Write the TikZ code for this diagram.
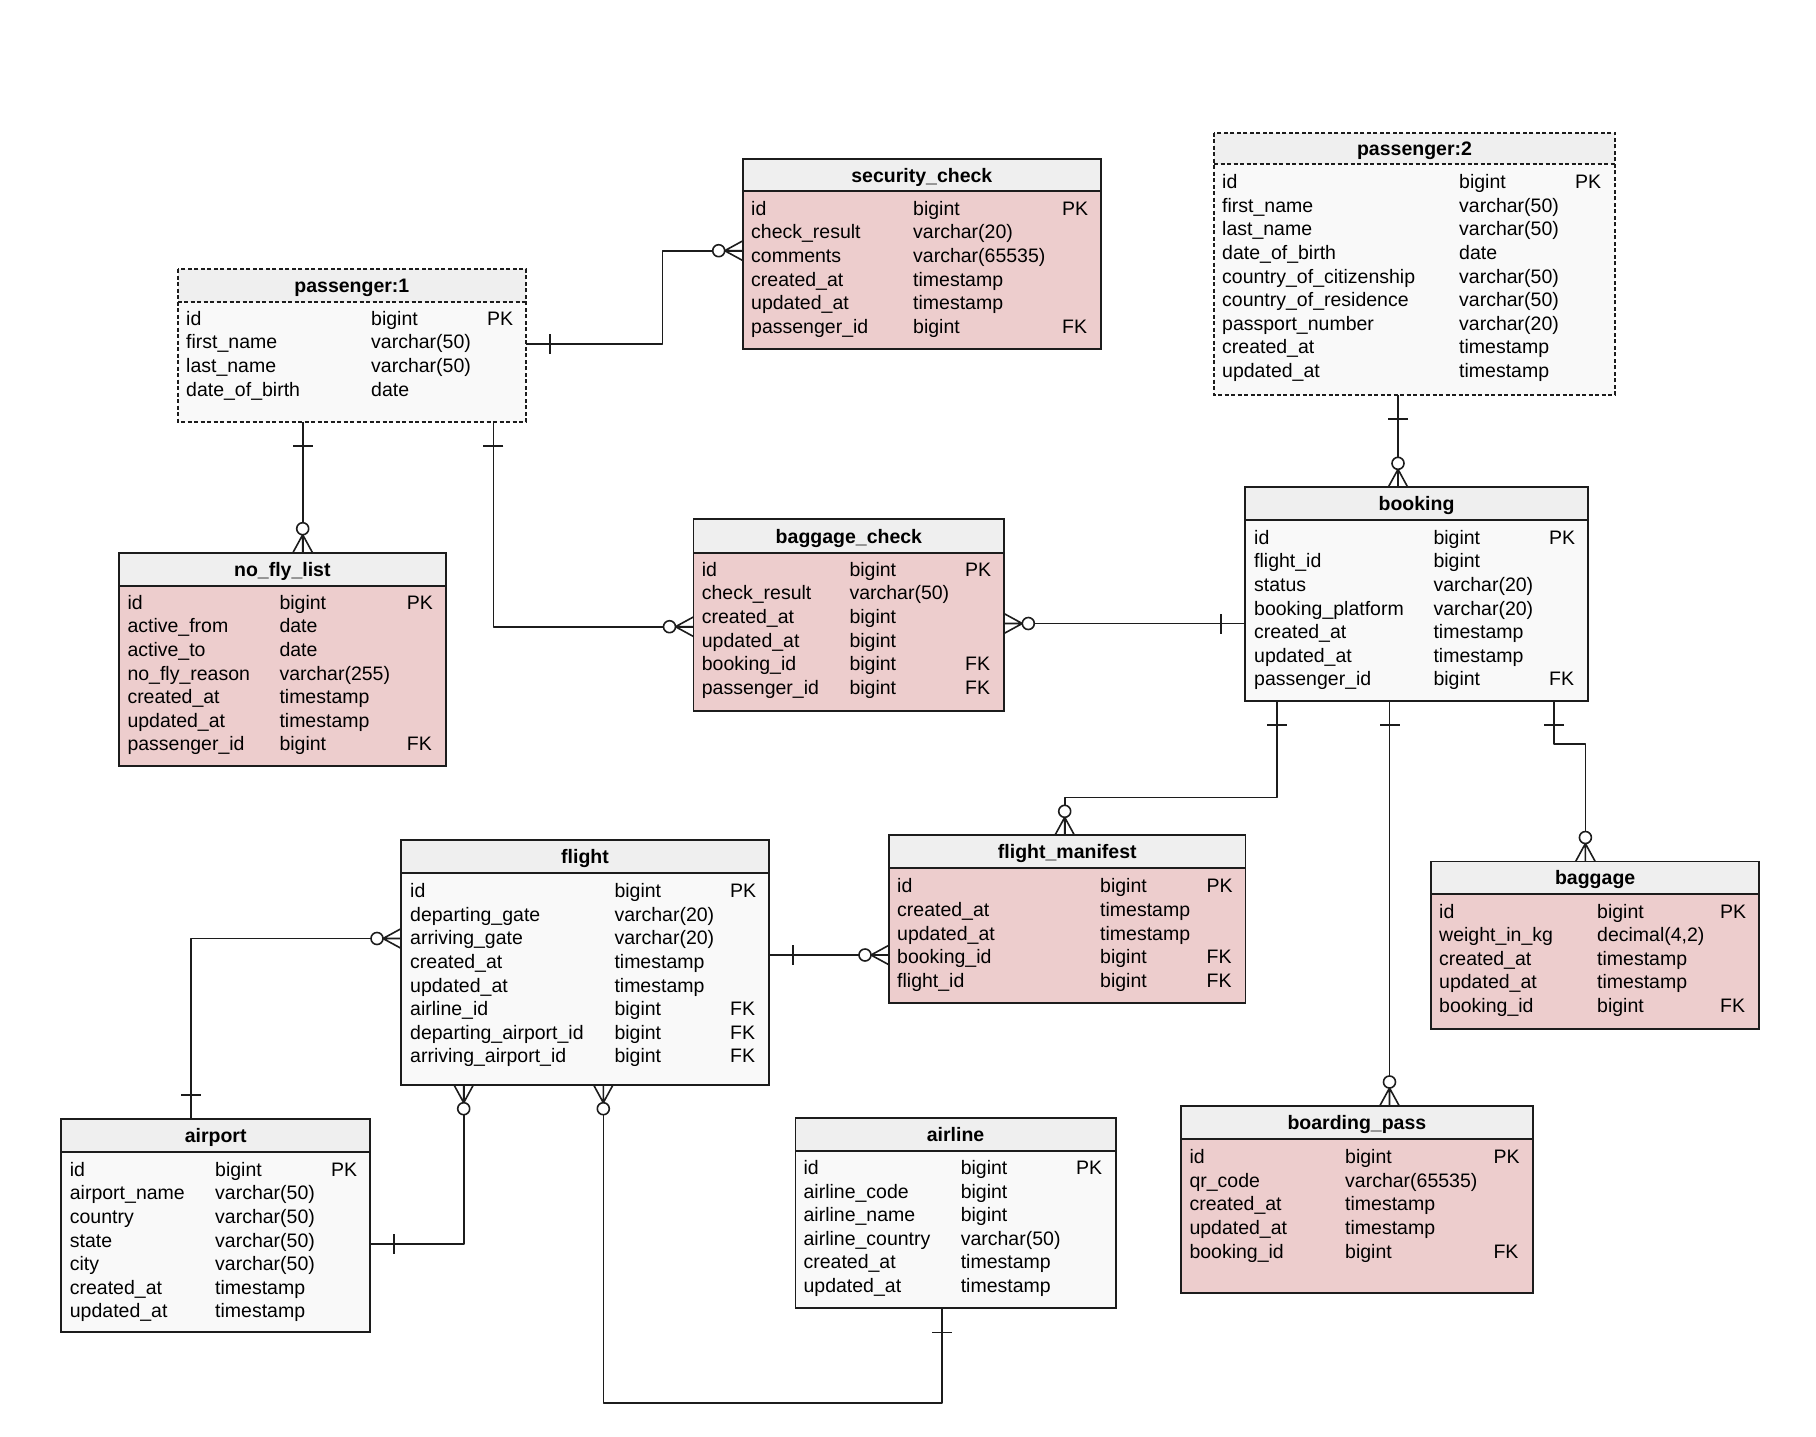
\documentclass[tikz,border=0pt]{standalone}
\usepackage{fontspec}
\setmainfont{Liberation Sans}
\usetikzlibrary{fit}
\definecolor{pinkbody}{HTML}{EDCDCD}
\definecolor{whitebody}{HTML}{F9F9F9}
\definecolor{hdrgray}{HTML}{EFEFEF}
\definecolor{edge}{HTML}{1C1C1C}
\tikzset{
  x=1pt, y=-1pt,
  tbl/.style={inner sep=0pt, outer sep=0pt, rectangle},
  border/.style={draw=edge, line width=1.7pt},
  dashedborder/.style={draw=edge, line width=1.7pt, dash pattern=on 4pt off 2.5pt},
  ttl/.style={font=\fontsize{19.5}{23}\selectfont\bfseries, inner sep=0pt, text height=14pt, text depth=0pt},
  cell/.style={font=\fontsize{19.5}{23}\selectfont, inner sep=0pt, anchor=west, text height=14pt, text depth=0pt},
  link/.style={draw=edge, line width=1.6pt, line join=round},
  one/.pic={\draw[link] (24,-10) -- (24,10);},
  zmany/.pic={\draw[link] (0,-9.8) -- (18,0) -- (0,9.8) (0,0) -- (18,0);
              \draw[link, fill=white] (24,0) circle (6);},
}
% #1 name, #2 border style, #3 body fill, #4 x1, #5 y1, #6 x2, #7 y2, #8 header bottom, #9 title
\newcommand\ertable[9]{%
  \fill[#3] (#4,#5) rectangle (#6,#7);
  \fill[hdrgray] (#4,#5) rectangle (#6,#8);
  \node[tbl, fit={(#4,#5) (#6,#7)}] (#1) {};
  \draw[#2] (#1.north west) rectangle (#1.south east);
  \draw[#2] (#1.west |- 0,#8) -- (#1.east |- 0,#8);
  \node[ttl] (#1-title) at ({(#4+#6)/2},{(#5+#8)/2}) {#9};
}
% #1 name, #2 x name, #3 x type, #4 x key, #5 first row y, #6 rows
\newcommand\errows[6]{%
  \foreach \na/\ty/\ky [count=\i from 0] in {#6} {
    \node[cell] (#1-n\i) at (#2,{#5+23.6*\i}) {\na};
    \node[cell] (#1-t\i) at (#3,{#5+23.6*\i}) {\ty};
    \node[cell] (#1-k\i) at (#4,{#5+23.6*\i}) {\ky};
  }%
}
\begin{document}
\begin{tikzpicture}
\fill[white] (0,0) rectangle (1816,1436);
\useasboundingbox (0,0) rectangle (1816,1436);

% passenger:1
\ertable{p1}{dashedborder}{whitebody}{177.7}{269}{526}{421.7}{301.7}{passenger:1}
\errows{p1}{186}{371}{487}{318.3}{id/bigint/PK, first\_name/varchar(50)/{}, last\_name/varchar(50)/{}, date\_of\_birth/date/{}}

% security_check
\ertable{sec}{border}{pinkbody}{742.7}{159}{1101}{349}{191.3}{security\_check}
\errows{sec}{751}{913}{1062}{208.3}{id/bigint/PK, check\_result/varchar(20)/{}, comments/varchar(65535)/{}, created\_at/timestamp/{}, updated\_at/timestamp/{}, passenger\_id/bigint/FK}

% passenger:2
\ertable{p2}{dashedborder}{whitebody}{1214}{132.7}{1615}{395}{164}{passenger:2}
\errows{p2}{1222}{1459}{1575}{181.7}{id/bigint/PK, first\_name/varchar(50)/{}, last\_name/varchar(50)/{}, date\_of\_birth/date/{}, country\_of\_citizenship/varchar(50)/{}, country\_of\_residence/varchar(50)/{}, passport\_number/varchar(20)/{}, created\_at/timestamp/{}, updated\_at/timestamp/{}}

% booking
\ertable{bk}{border}{whitebody}{1245}{487.3}{1588}{700.7}{520}{booking}
\errows{bk}{1254}{1433.3}{1549}{537.3}{id/bigint/PK, flight\_id/bigint/{}, status/varchar(20)/{}, booking\_platform/varchar(20)/{}, created\_at/timestamp/{}, updated\_at/timestamp/{}, passenger\_id/bigint/FK}

% no_fly_list
\ertable{nfl}{border}{pinkbody}{119}{552.7}{445.7}{766}{585.7}{no\_fly\_list}
\errows{nfl}{127.3}{279.3}{406.7}{602.3}{id/bigint/PK, active\_from/date/{}, active\_to/date/{}, no\_fly\_reason/varchar(255)/{}, created\_at/timestamp/{}, updated\_at/timestamp/{}, passenger\_id/bigint/FK}

% baggage_check
\ertable{bc}{border}{pinkbody}{693.5}{519.3}{1004.3}{710.7}{552.7}{baggage\_check}
\errows{bc}{701.7}{849.3}{965}{569.3}{id/bigint/PK, check\_result/varchar(50)/{}, created\_at/bigint/{}, updated\_at/bigint/{}, booking\_id/bigint/FK, passenger\_id/bigint/FK}

% flight_manifest
\ertable{fm}{border}{pinkbody}{889}{835.3}{1245.5}{1003}{868}{flight\_manifest}
\errows{fm}{897}{1100}{1206.5}{885.8}{id/bigint/PK, created\_at/timestamp/{}, updated\_at/timestamp/{}, booking\_id/bigint/FK, flight\_id/bigint/FK}

% flight
\ertable{fl}{border}{whitebody}{401}{840.3}{769}{1084.7}{873}{flight}
\errows{fl}{410}{614.3}{730}{890.7}{id/bigint/PK, departing\_gate/varchar(20)/{}, arriving\_gate/varchar(20)/{}, created\_at/timestamp/{}, updated\_at/timestamp/{}, airline\_id/bigint/FK, departing\_airport\_id/bigint/FK, arriving\_airport\_id/bigint/FK}

% baggage
\ertable{bg}{border}{pinkbody}{1431}{861.5}{1759.3}{1029}{894}{baggage}
\errows{bg}{1439}{1597}{1720}{911}{id/bigint/PK, weight\_in\_kg/{decimal(4,2)}/{}, created\_at/timestamp/{}, updated\_at/timestamp/{}, booking\_id/bigint/FK}

% airport
\ertable{ap}{border}{whitebody}{61.3}{1119}{370}{1332.3}{1152.3}{airport}
\errows{ap}{69.7}{215}{331}{1169.3}{id/bigint/PK, airport\_name/varchar(50)/{}, country/varchar(50)/{}, state/varchar(50)/{}, city/varchar(50)/{}, created\_at/timestamp/{}, updated\_at/timestamp/{}}

% airline
\ertable{al}{border}{whitebody}{795.4}{1117.7}{1115.8}{1308.3}{1150.7}{airline}
\errows{al}{803.4}{960.6}{1076}{1167.5}{id/bigint/PK, airline\_code/bigint/{}, airline\_name/bigint/{}, airline\_country/varchar(50)/{}, created\_at/timestamp/{}, updated\_at/timestamp/{}}

% boarding_pass
\ertable{bp}{border}{pinkbody}{1181}{1106}{1532.7}{1293.3}{1139}{boarding\_pass}
\errows{bp}{1189.3}{1345}{1493.3}{1156.7}{id/bigint/PK, qr\_code/varchar(65535)/{}, created\_at/timestamp/{}, updated\_at/timestamp/{}, booking\_id/bigint/FK}

% ---------------- connectors ----------------
% passenger:1 -> security_check
\draw[link] (p1.east |- 0,344) -- (662.3,344) |- (sec.west |- 0,250.7);
\pic[rotate=0] at (p1.east |- 0,344) {one};
\pic[rotate=180] at (sec.west |- 0,250.7) {zmany};
% passenger:1 -> no_fly_list
\draw[link] (p1.south -| 302.7,0) -- (nfl.north -| 302.7,0);
\pic[rotate=-90] at (p1.south -| 302.7,0) {one};
\pic[rotate=90] at (nfl.north -| 302.7,0) {zmany};
% passenger:1 -> baggage_check
\draw[link] (p1.south -| 493.3,0) |- (bc.west |- 0,626.7);
\pic[rotate=-90] at (p1.south -| 493.3,0) {one};
\pic[rotate=180] at (bc.west |- 0,626.7) {zmany};
% passenger:2 -> booking
\draw[link] (p2.south -| 1398,0) -- (bk.north -| 1398,0);
\pic[rotate=-90] at (p2.south -| 1398,0) {one};
\pic[rotate=90] at (bk.north -| 1398,0) {zmany};
% booking -> baggage_check
\draw[link] (bk.west |- 0,623.5) -- (bc.east |- 0,623.5);
\pic[rotate=180] at (bk.west |- 0,623.5) {one};
\pic[rotate=0] at (bc.east |- 0,623.5) {zmany};
% booking -> flight_manifest
\draw[link] (bk.south -| 1276.7,0) -- (1276.7,797.3) -| (fm.north -| 1064.7,0);
\pic[rotate=-90] at (bk.south -| 1276.7,0) {one};
\pic[rotate=90] at (fm.north -| 1064.7,0) {zmany};
% booking -> boarding_pass
\draw[link] (bk.south -| 1389.5,0) -- (bp.north -| 1389.5,0);
\pic[rotate=-90] at (bk.south -| 1389.5,0) {one};
\pic[rotate=90] at (bp.north -| 1389.5,0) {zmany};
% booking -> baggage
\draw[link] (bk.south -| 1554,0) -- (1554,743.8) -| (bg.north -| 1585.4,0);
\pic[rotate=-90] at (bk.south -| 1554,0) {one};
\pic[rotate=90] at (bg.north -| 1585.4,0) {zmany};
% flight -> flight_manifest
\draw[link] (fl.east |- 0,955) -- (fm.west |- 0,955);
\pic[rotate=0] at (fl.east |- 0,955) {one};
\pic[rotate=180] at (fm.west |- 0,955) {zmany};
% airport -> flight (left)
\draw[link] (ap.north -| 191,0) |- (fl.west |- 0,938.5);
\pic[rotate=90] at (ap.north -| 191,0) {one};
\pic[rotate=180] at (fl.west |- 0,938.5) {zmany};
% airport -> flight (bottom)
\draw[link] (ap.east |- 0,1244) -| (fl.south -| 463.7,0);
\pic[rotate=0] at (ap.east |- 0,1244) {one};
\pic[rotate=-90] at (fl.south -| 463.7,0) {zmany};
% airline -> flight
\draw[link] (al.south -| 941.7,0) -- (941.7,1403.2) -| (fl.south -| 603.3,0);
\pic[rotate=-90] at (al.south -| 941.7,0) {one};
\pic[rotate=-90] at (fl.south -| 603.3,0) {zmany};
\end{tikzpicture}
\end{document}
